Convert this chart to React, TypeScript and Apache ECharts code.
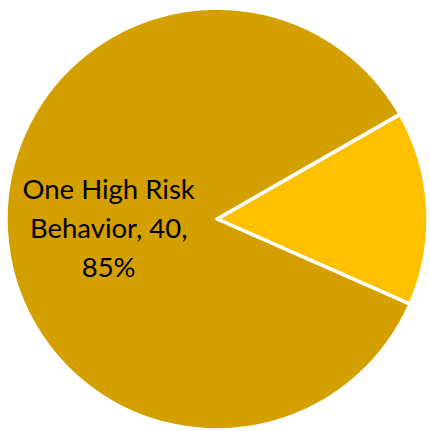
import React, { useEffect, useRef } from "react";
import * as echarts from "echarts";

const categories = ["Two or More High Risk Behaviors", "One High Risk Behavior"];
const values = [7, 40];
const colors = ["#FFC000", "#D3A000"];
const showLabel = [false, true];

export default function App() {
  const ref = useRef<HTMLDivElement>(null);
  useEffect(() => {
    if (!ref.current) return;
    const chart = echarts.init(ref.current, null, { renderer: "svg" });
    chart.setOption({
      animation: false,
      backgroundColor: "#ffffff",
      series: [
        {
          type: "pie",
          center: [217, 219],
          radius: 211,
          startAngle: 29.8,
          clockwise: true,
          itemStyle: { borderColor: "#ffffff", borderWidth: 3.5 },
          labelLine: { show: false },
          data: categories.map((name, i) => ({
            name,
            value: values[i],
            itemStyle: { color: colors[i] },
            label: {
              show: showLabel[i],
              position: "inside",
              formatter: (p: any) => "One High Risk\nBehavior, " + p.value + ",\n" + Math.round(p.percent) + "%",
              color: "#000000",
              fontFamily: "Lato",
              fontSize: 27.5,
              lineHeight: 39,
              align: "center",
              offset: [0, 3],
            },
          })),
        },
      ],
    });
    return () => chart.dispose();
  }, []);
  return (
    <div
      ref={ref}
      style={{ position: "absolute", left: 0, top: 0, width: 430, height: 431 }}
    />
  );
}
